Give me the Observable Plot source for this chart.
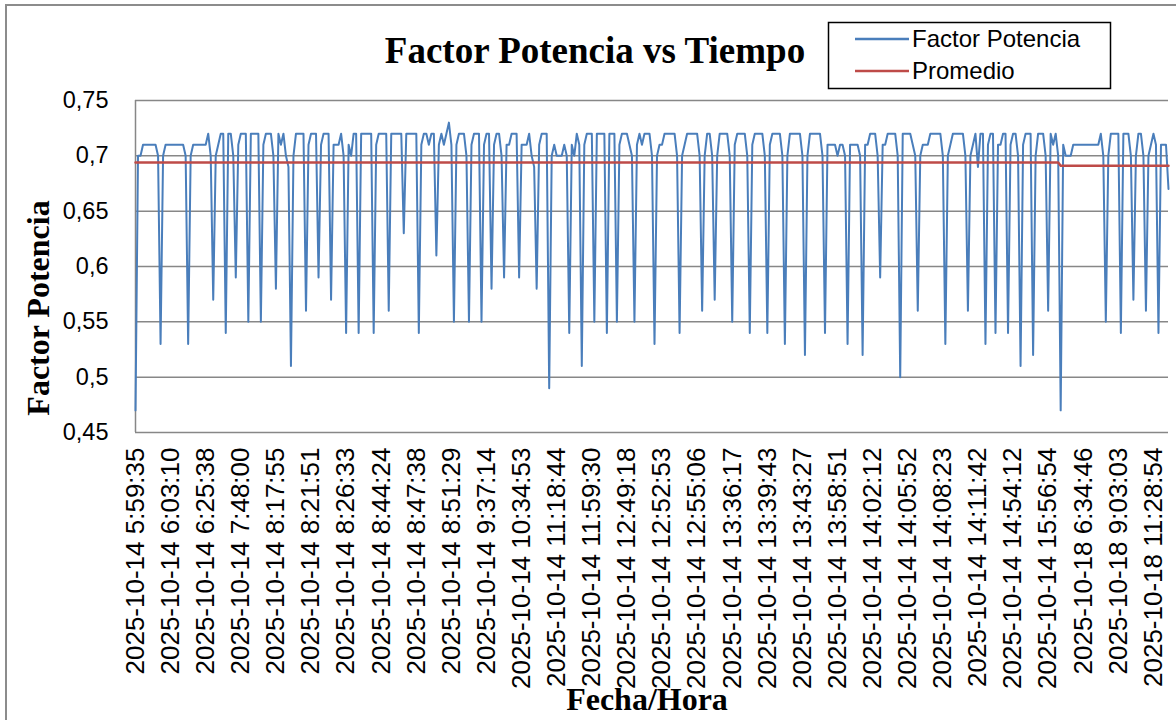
<!DOCTYPE html>
<html><head><meta charset="utf-8">
<script src="https://cdn.jsdelivr.net/npm/d3@7"></script>
<script src="https://cdn.jsdelivr.net/npm/@observablehq/plot@0.6"></script>
<style>
html,body{margin:0;padding:0;background:#fff;overflow:hidden;width:1176px;height:720px;}
#wrap{position:relative;width:1176px;height:720px;overflow:hidden;}
#border{position:absolute;left:5px;top:4px;width:1300px;height:800px;border:2px solid #8c8c8c;box-sizing:border-box;}
#chart{position:absolute;left:0;top:0;}
#overlay{position:absolute;left:0;top:0;}
</style>
</head><body>
<div id="wrap"><div id="border"></div><div id="chart"></div><svg id="overlay" width="1176" height="720"></svg></div>
<script>
// Factor de potencia, one reading per category (413 readings)
const factorPotencia = [
.47,.70,.70,.71,.71,.71,.71,.71,.71,.70,
.53,.70,.71,.71,.71,.71,.71,.71,.71,.71,
.70,.53,.70,.71,.71,.71,.71,.71,.71,.72,
.70,.57,.70,.71,.72,.72,.54,.72,.72,.70,
.59,.71,.72,.72,.72,.55,.72,.72,.72,.72,
.55,.71,.72,.72,.72,.70,.58,.72,.71,.72,
.70,.69,.51,.70,.72,.72,.72,.72,.56,.71,
.72,.72,.72,.59,.71,.72,.72,.72,.57,.71,
.71,.71,.72,.70,.54,.71,.70,.72,.72,.54,
.72,.72,.72,.72,.72,.54,.71,.72,.72,.72,
.72,.56,.72,.72,.72,.72,.72,.63,.72,.72,
.72,.72,.72,.54,.71,.72,.72,.71,.72,.72,
.61,.71,.72,.71,.72,.73,.71,.55,.71,.72,
.72,.72,.70,.55,.71,.72,.72,.72,.55,.71,
.72,.72,.58,.71,.72,.72,.70,.59,.71,.71,
.72,.72,.72,.59,.71,.71,.71,.72,.70,.69,
.58,.71,.72,.72,.72,.49,.70,.71,.70,.70,
.70,.71,.70,.54,.71,.70,.72,.71,.51,.71,
.72,.72,.72,.55,.72,.72,.72,.72,.54,.72,
.72,.72,.55,.71,.72,.72,.72,.71,.70,.55,
.71,.72,.71,.72,.72,.72,.70,.53,.70,.71,
.71,.72,.72,.72,.72,.72,.70,.54,.70,.71,
.72,.72,.72,.72,.72,.70,.56,.70,.72,.72,
.70,.57,.70,.72,.72,.72,.72,.70,.55,.71,
.72,.72,.72,.72,.70,.54,.71,.72,.72,.72,
.72,.70,.54,.71,.72,.72,.72,.72,.70,.53,
.70,.72,.72,.72,.72,.72,.70,.52,.70,.72,
.72,.72,.72,.72,.70,.54,.71,.71,.71,.71,
.70,.71,.71,.70,.53,.71,.71,.71,.71,.70,
.52,.71,.71,.72,.72,.72,.70,.59,.71,.71,
.72,.72,.72,.72,.70,.50,.72,.72,.72,.72,
.71,.70,.56,.70,.71,.71,.71,.72,.72,.72,
.72,.72,.70,.53,.70,.71,.72,.72,.72,.72,
.72,.70,.56,.70,.71,.72,.69,.72,.72,.53,
.71,.72,.72,.54,.71,.71,.72,.72,.54,.71,
.72,.72,.70,.51,.71,.72,.72,.72,.52,.70,
.72,.72,.72,.70,.56,.72,.71,.72,.70,.47,
.71,.70,.70,.70,.71,.71,.71,.71,.71,.71,
.71,.71,.71,.71,.71,.72,.70,.55,.70,.72,
.72,.72,.72,.54,.72,.72,.72,.70,.57,.70,
.72,.72,.70,.56,.70,.71,.72,.71,.54,.71,
.71,.71,.67
];

// Promedio (daily average): category index and value
const promedioIdx = [0, 368, 369, 412];
const promedioVal = [0.694, 0.694, 0.691, 0.691];

// Category labels shown on the axis, and the category index where each sits
const tickLabels = [
"2025-10-14 5:59:35","2025-10-14 6:03:10","2025-10-14 6:25:38","2025-10-14 7:48:00",
"2025-10-14 8:17:55","2025-10-14 8:21:51","2025-10-14 8:26:33","2025-10-14 8:44:24",
"2025-10-14 8:47:38","2025-10-14 8:51:29","2025-10-14 9:37:14","2025-10-14 10:34:53",
"2025-10-14 11:18:44","2025-10-14 11:59:30","2025-10-14 12:49:18","2025-10-14 12:52:53",
"2025-10-14 12:55:06","2025-10-14 13:36:17","2025-10-14 13:39:43","2025-10-14 13:43:27",
"2025-10-14 13:58:51","2025-10-14 14:02:12","2025-10-14 14:05:52","2025-10-14 14:08:23",
"2025-10-14 14:11:42","2025-10-14 14:54:12","2025-10-14 15:56:54","2025-10-18 6:34:46",
"2025-10-18 9:03:03","2025-10-18 11:28:54"
];
const tickIdx = [0,14,28,42,56,70,84,98,112,126,140,154,168,182,196,210,224,238,252,266,280,294,308,322,336,350,364,378,392,406];

const yTicks = [0.45, 0.5, 0.55, 0.6, 0.65, 0.7, 0.75];
const fmtY = d => String(+d.toFixed(2)).replace(".", ",");

const promedio = promedioIdx.map((x, i) => ({x, y: promedioVal[i]}));

const chart = Plot.plot({
  width: 1176, height: 720,
  marginLeft: 135, marginRight: 8, marginTop: 100, marginBottom: 288,
  style: {background: "transparent", fontFamily: "Liberation Sans, Arial, sans-serif", color: "#000", overflow: "visible"},
  x: {domain: [0, factorPotencia.length - 1], axis: null},
  y: {domain: [0.45, 0.75], axis: null},
  marks: [
    Plot.ruleY(yTicks, {stroke: "#878787", strokeWidth: 1.5}),
    Plot.ruleX([0], {stroke: "#878787", strokeWidth: 1.5}),
    Plot.axisY({ticks: yTicks, tickFormat: fmtY, tickSize: 0, tickPadding: 27, fontSize: 23.5, label: null}),
    Plot.axisX({ticks: tickIdx, tickFormat: d => tickLabels[tickIdx.indexOf(d)], tickRotate: -90, tickSize: 0, tickPadding: 15, fontSize: 26, label: null}),
    Plot.lineY(factorPotencia, {stroke: "#4A7EBB", strokeWidth: 2}),
    Plot.line(promedio, {x: "x", y: "y", stroke: "#BE4B48", strokeWidth: 2.5})
  ]
});
document.getElementById("chart").appendChild(chart);

// Titles and legend
const ov = d3.select("#overlay");
const serif = "Liberation Serif, Times New Roman, serif";
ov.append("text").attr("x", 595).attr("y", 63).attr("text-anchor", "middle")
  .attr("font-family", serif).attr("font-weight", "bold").attr("font-size", 37).text("Factor Potencia vs Tiempo");
ov.append("text").attr("transform", "translate(49,308) rotate(-90)").attr("text-anchor", "middle")
  .attr("font-family", serif).attr("font-weight", "bold").attr("font-size", 32).text("Factor Potencia");
ov.append("text").attr("x", 647).attr("y", 710).attr("text-anchor", "middle")
  .attr("font-family", serif).attr("font-weight", "bold").attr("font-size", 32).text("Fecha/Hora");

const lg = ov.append("g");
lg.append("rect").attr("x", 828.5).attr("y", 22.5).attr("width", 282).attr("height", 66)
  .attr("fill", "#fff").attr("stroke", "#000").attr("stroke-width", 1.5);
const legendItems = [["Factor Potencia", "#4A7EBB", 39], ["Promedio", "#BE4B48", 71]];
legendItems.forEach(([name, color, y]) => {
  lg.append("line").attr("x1", 855).attr("x2", 909).attr("y1", y).attr("y2", y)
    .attr("stroke", color).attr("stroke-width", 2.5);
  lg.append("text").attr("x", 912).attr("y", y + 8).attr("font-family", "Liberation Sans, Arial, sans-serif")
    .attr("font-size", 24).text(name);
});
</script>
</body></html>
